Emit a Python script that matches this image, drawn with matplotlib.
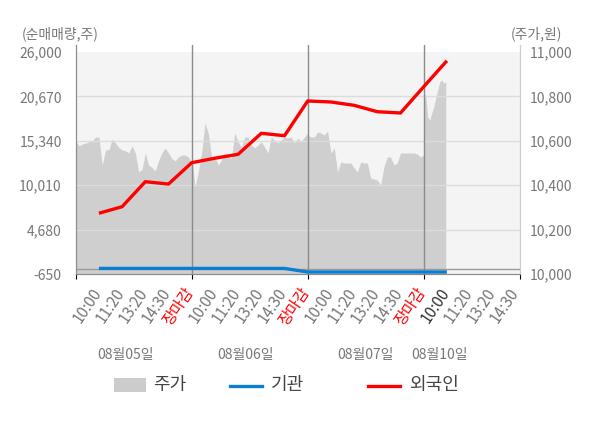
import numpy as np
import matplotlib
matplotlib.use("Agg")
import matplotlib.pyplot as plt
import matplotlib.transforms as mtransforms
from matplotlib.patches import Rectangle
from matplotlib.lines import Line2D

plt.rcParams['font.family'] = ['Noto Sans CJK KR', 'DejaVu Sans']

# ---------------- data ----------------
dates = ["08월05일", "08월06일", "08월07일", "08월10일"]
time_labels = ["10:00", "11:20", "13:20", "14:30", "장마감"]
last_day_labels = ["10:00", "11:20", "13:20", "14:30"]

left_ticks = [-650, 4680, 10010, 15340, 20670, 26000]
right_ticks = [10000, 10200, 10400, 10600, 10800, 11000]

# 외국인 (net buying, shares) at each slot: 10:00, 11:20, 13:20, 14:30, 장마감 per day
foreign = [6640, 7430, 10430, 10150, 12710,
           13250, 13720, 16240, 15950, 20120,
           20000, 19600, 18830, 18680, 21830,
           24950]
# 기관 (net buying, shares)
institution = [20, 20, 20, 20, 20,
               20, 20, 20, 20, -410,
               -410, -410, -410, -410, -410,
               -410]

# 주가 (price, won) sampled evenly through each trading day
price_day1 = [10600, 10578, 10585, 10590, 10595, 10600, 10617, 10617, 10491, 10559,
              10560, 10608, 10590, 10570, 10559, 10555, 10545, 10577, 10545, 10460,
              10470, 10545, 10491, 10480, 10464, 10510, 10545, 10568, 10545, 10520,
              10510, 10527, 10536, 10536, 10527, 10505]
price_day2 = [10540, 10392, 10460, 10545, 10680, 10635, 10527, 10527, 10491, 10514,
              10545, 10527, 10523, 10635, 10595, 10572, 10617, 10617, 10581, 10568,
              10581, 10595, 10572, 10545, 10617, 10604, 10590, 10604, 10617, 10613,
              10617, 10590, 10613, 10595, 10617, 10635]
price_day3 = [10626, 10617, 10617, 10640, 10635, 10626, 10644, 10545, 10568, 10460,
              10505, 10500, 10500, 10500, 10478, 10460, 10505, 10500, 10500, 10432,
              10428, 10423, 10401, 10482, 10527, 10527, 10491, 10500, 10545, 10545,
              10545, 10545, 10545, 10541, 10527, 10536]
price_day4 = [10815, 10806, 10707, 10694, 10725, 10752, 10793, 10829, 10865, 10874,
              10860, 10865]

# ---------------- figure ----------------
W, H = 600, 428
fig = plt.figure(figsize=(W / 100, H / 100), dpi=100)
L, R, T, B = 75.7, 520, 45, 274
ax2 = fig.add_axes([L / W, 1 - B / H, (R - L) / W, (B - T) / H])
ax = ax2.twinx()
ax.set_zorder(ax2.get_zorder() + 1)
ax.patch.set_visible(False)
ax.yaxis.tick_left()
ax2.yaxis.tick_right()

xmax = (R - L) / 116.0
ax.set_xlim(0, xmax)
ax2.set_xlim(0, xmax)

ymin, ytop = -650, 26000
ax.set_ylim(ymin, ymin + (B - T) / (B - 52) * (ytop - ymin))
pmin, ptop = 10000, 11000
ax2.set_ylim(pmin, pmin + (B - T) / (B - 52) * (ptop - pmin))

# background of plot area
ax2.axhspan(pmin, ptop, color='#f4f4f4', zorder=0, lw=0)

# price area
days = [price_day1, price_day2, price_day3]
px, pv = [], []
for d, vals in enumerate(days):
    px.extend(np.linspace(d, d + 1, len(vals)))
    pv.extend(vals)
px.extend(np.linspace(3, 3.19, len(price_day4)))
pv.extend(price_day4)
ax2.fill_between(px, pmin, pv, color='#cfcfcf', lw=0, zorder=1)

# grid
for v in left_ticks[1:-1]:
    ax.axhline(v, color='#dcdcdc', lw=1, zorder=1)
ax.axhline(0, color='#9a9a9a', lw=1, zorder=1)
for d in [1, 2, 3]:
    ax.axvline(d, color='#8c8c8c', lw=1, zorder=2)

# lines
slots = 0.2 * (np.arange(len(foreign)) + 1)
ax.plot(slots, institution, color='#0a7fd1', lw=2.4, zorder=3, solid_capstyle='butt')
ax.plot(slots, foreign, color='#ff0000', lw=2.4, zorder=4, solid_capstyle='butt')

# spines
for a in (ax, ax2):
    a.spines['top'].set_visible(False)
    a.spines['left'].set_color('#8c8c8c')
    a.spines['right'].set_color('#cccccc')
    a.spines['bottom'].set_color('#8c8c8c')

# y ticks
ax.set_yticks(left_ticks)
ax.set_yticklabels([f"{v:,}" for v in left_ticks])
ax.tick_params(axis='y', length=0, pad=10, labelsize=10, labelcolor='#777777')
ax2.set_yticks(right_ticks)
ax2.set_yticklabels([f"{v:,}" for v in right_ticks])
ax2.tick_params(axis='y', length=0, pad=7, labelsize=10, labelcolor='#777777')

# x ticks (marks only at day boundaries)
ax2.set_xticks([])
ax.set_xticks([0, 1, 2, 3, xmax])
ax.set_xticklabels([])
ax.tick_params(axis='x', which='major', length=4, color='#8c8c8c')

# rotated time labels
lab_pos, lab_txt = [], []
for d in range(3):
    for k, lab in enumerate(time_labels):
        lab_pos.append(d + 0.2 * (k + 1))
        lab_txt.append(lab)
for k, lab in enumerate(last_day_labels):
    lab_pos.append(3 + 0.2 * (k + 1))
    lab_txt.append(lab)
base = mtransforms.blended_transform_factory(ax.transData, ax.transAxes)
off = mtransforms.ScaledTranslation(-1.0 / 100, -15.5 / 100, fig.dpi_scale_trans)
for i, (xp, lab) in enumerate(zip(lab_pos, lab_txt)):
    if lab == "장마감":
        col = '#ff0000'
    elif i == 15:
        col = '#333333'
    else:
        col = '#777777'
    ax.text(xp, 0, lab, transform=base + off, rotation=56, rotation_mode='anchor',
            ha='right', va='center', fontsize=11, color=col, clip_on=False)

# date labels
date_px = [125, 245, 365, 440]
for dl, xp in zip(dates, date_px):
    fig.text(xp / W, 1 - 355 / H, dl, ha='center', va='center', fontsize=10, color='#777777')

# axis titles
fig.text(22 / W, 1 - 34 / H, "(순매매량,주)", ha='left', va='center', fontsize=10, color='#777777')
fig.text(562 / W, 1 - 34 / H, "(주가,원)", ha='right', va='center', fontsize=10, color='#777777')

# legend
fig.patches.append(Rectangle((114 / W, 1 - 392 / H), 32 / W, 14 / H, transform=fig.transFigure,
                             facecolor='#cccccc', edgecolor='none'))
fig.text(153 / W, 1 - 385 / H, "주가", ha='left', va='center', fontsize=13, color='#444444')
fig.lines.append(Line2D([230 / W, 262 / W], [1 - 386 / H] * 2, transform=fig.transFigure,
                        color='#0a7fd1', lw=2.4))
fig.text(271 / W, 1 - 385 / H, "기관", ha='left', va='center', fontsize=13, color='#444444')
fig.lines.append(Line2D([368 / W, 400 / W], [1 - 386 / H] * 2, transform=fig.transFigure,
                        color='#ff0000', lw=2.4))
fig.text(409 / W, 1 - 385 / H, "외국인", ha='left', va='center', fontsize=13, color='#444444')

fig.savefig("out.png", dpi=100)
